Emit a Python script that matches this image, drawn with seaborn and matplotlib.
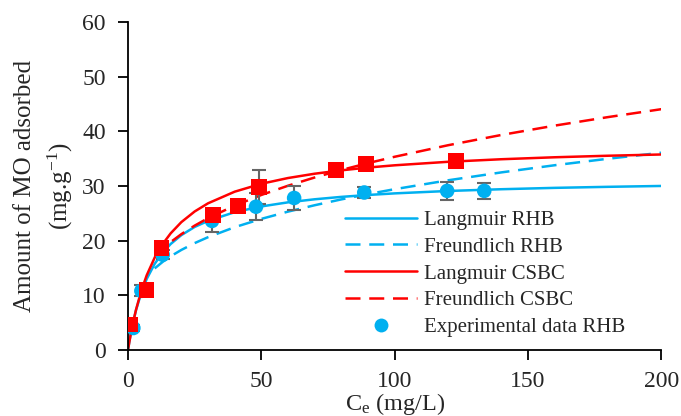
import matplotlib
matplotlib.use("Agg")
import matplotlib.pyplot as plt
import seaborn as sns
from matplotlib.lines import Line2D

# experimental points
rhb_ce = [2, 5, 13, 31.5, 48, 62.3, 88.6, 119.7, 133.6]
rhb_qe = [4.0, 10.8, 17.4, 23.6, 26.2, 27.8, 28.8, 29.1, 29.1]
rhb_err = [0.5, 1.0, 0.8, 2.0, 2.5, 2.2, 1.0, 1.7, 1.4]

csbc_ce = [0.8, 7, 12.6, 31.9, 41.3, 49.2, 78, 89.3, 123]
csbc_qe = [4.6, 11.0, 18.6, 24.7, 26.3, 29.8, 32.9, 34.0, 34.6]
csbc_err = [0.3, 0.5, 0.5, 1.0, 0.6, 3.1, 0.8, 0.8, 0.8]

# model curves
ce_grid = [0, 0.5, 1, 2, 3, 5, 7, 10, 13, 16, 20, 25, 30, 40, 50, 60, 70, 80,
           90, 100, 120, 140, 160, 180, 200]
lang_rhb = [0, 1.5, 2.86, 5.25, 7.27, 10.5, 12.97, 15.75, 17.8, 19.38, 21.0, 22.5,
            23.6, 25.2, 26.25, 27.0, 27.56, 28.0, 28.35, 28.64, 29.08, 29.4, 29.65,
            29.84, 30.0]
lang_csbc = [0, 1.46, 2.81, 5.24, 7.35, 10.86, 13.64, 16.89, 19.37, 21.33, 23.38,
             25.33, 26.82, 28.95, 30.4, 31.45, 32.24, 32.86, 33.37, 33.78, 34.42,
             34.89, 35.25, 35.53, 35.76]

ce_freund = [10, 13, 16, 20, 25, 30, 40, 50, 60, 70, 80, 90, 100, 120, 140, 160,
             180, 200]
freund_rhb = [14.91, 16.11, 17.13, 18.29, 19.54, 20.62, 22.45, 23.97, 25.3, 26.47,
              27.54, 28.51, 29.41, 31.03, 32.48, 33.79, 34.98, 36.08]
freund_csbc = [16.99, 18.47, 19.73, 21.18, 22.74, 24.1, 26.4, 28.35, 30.04, 31.55,
               32.92, 34.18, 35.34, 37.45, 39.33, 41.04, 42.6, 44.05]

blue = "#00B0F0"
red = "#FF0000"

sns.set_style("ticks")
plt.rcParams["font.family"] = ["Liberation Serif", "DejaVu Serif"]
plt.rcParams["mathtext.fontset"] = "custom"
plt.rcParams["mathtext.rm"] = "Liberation Serif"
plt.rcParams["mathtext.it"] = "Liberation Serif:italic"

fig, ax = plt.subplots(figsize=(6.81, 4.16), dpi=100)
fig.subplots_adjust(left=0.188, right=0.971, top=0.947, bottom=0.159)

lw = 1.8
dash = (6, 3.5)
sns.lineplot(x=ce_grid, y=lang_rhb, color=blue, lw=lw, ax=ax, zorder=2)
sns.lineplot(x=ce_freund, y=freund_rhb, color=blue, lw=lw, ax=ax, zorder=2,
             linestyle=(0, dash))
sns.lineplot(x=ce_grid, y=lang_csbc, color=red, lw=lw, ax=ax, zorder=2)
sns.lineplot(x=ce_freund, y=freund_csbc, color=red, lw=lw, ax=ax, zorder=2,
             linestyle=(0, dash))

ax.errorbar(rhb_ce, rhb_qe, yerr=rhb_err, fmt="none", ecolor="#666666",
            elinewidth=1.5, capsize=5, capthick=1.5, zorder=3)
ax.errorbar(csbc_ce, csbc_qe, yerr=csbc_err, fmt="none", ecolor="#666666",
            elinewidth=1.5, capsize=5, capthick=1.5, zorder=3)
sns.scatterplot(x=rhb_ce, y=rhb_qe, color=blue, s=110, marker="o",
                edgecolor="none", ax=ax, zorder=4)
sns.scatterplot(x=csbc_ce, y=csbc_qe, color=red, s=125, marker="s",
                edgecolor="none", ax=ax, zorder=5)

ax.set_xlim(0, 200)
ax.set_ylim(0, 60)
ax.set_xticks([0, 50, 100, 150, 200])
ax.set_yticks(range(0, 61, 10))
ax.tick_params(labelsize=17, width=1.3, length=7, color="black")
ax.tick_params(axis="x", pad=8)
ax.tick_params(axis="y", pad=9)
for s in ["left", "bottom"]:
    ax.spines[s].set_linewidth(1.3)
    ax.spines[s].set_color("black")
sns.despine(ax=ax)

ax.set_xlabel("C$_\\mathrm{e}$ (mg/L)", fontsize=17.5)
ax.xaxis.set_label_coords(0.5, -0.124)
ax.set_ylabel("Amount of MO adsorbed\n(mg.g$^{\\mathrm{-1}}$)", fontsize=18,
              linespacing=1.45)
ax.yaxis.set_label_coords(-0.1, 0.5)

handles = [
    Line2D([], [], color=blue, lw=lw),
    Line2D([], [], color=blue, lw=lw, linestyle=(0, dash)),
    Line2D([], [], color=red, lw=lw),
    Line2D([], [], color=red, lw=lw, linestyle=(0, dash)),
    Line2D([], [], color=blue, marker="o", markersize=10, linestyle="none",
           markeredgecolor="none"),
]
labels = ["Langmuir RHB", "Freundlich RHB", "Langmuir CSBC", "Freundlich CSBC",
          "Experimental data RHB"]
ax.legend(handles, labels, loc="upper left", bbox_to_anchor=(0.371, 0.483),
          frameon=False, fontsize=15, handlelength=3.46, handletextpad=0.34,
          labelspacing=0.35)

fig.savefig("out.png", dpi=100)
